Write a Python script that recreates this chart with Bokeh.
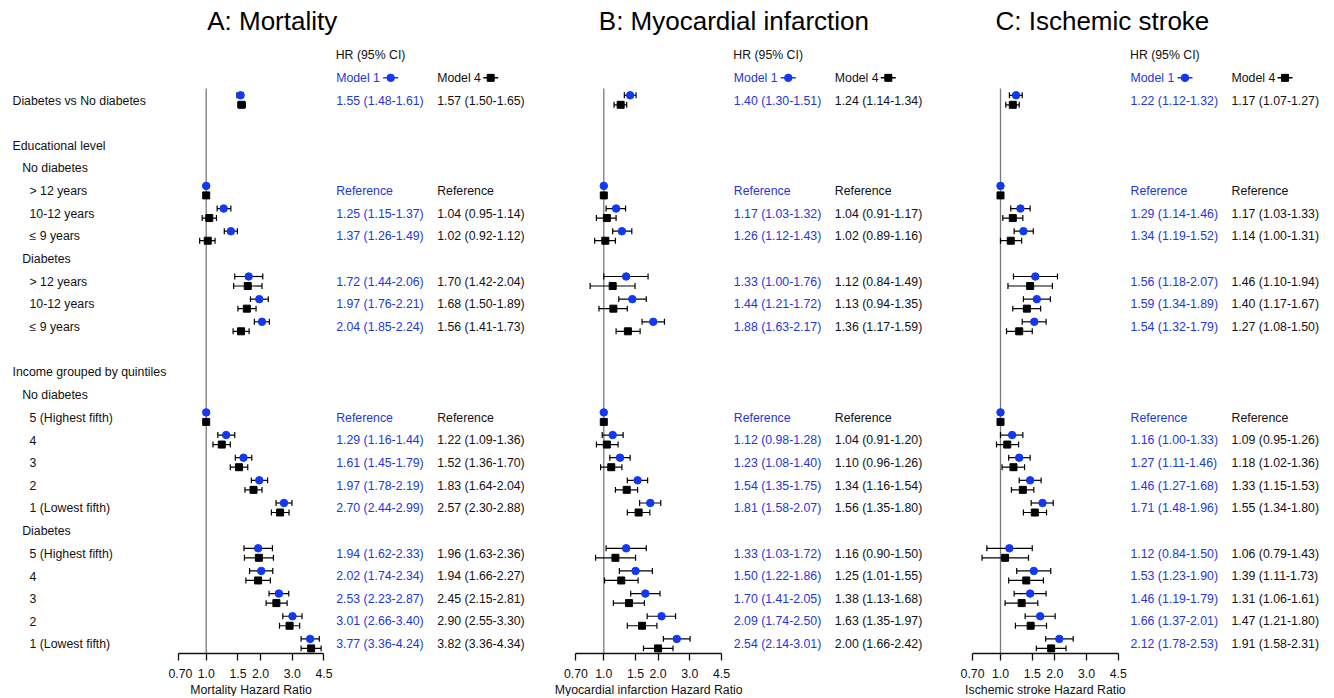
import math
from bokeh.plotting import figure
from bokeh.layouts import row
from bokeh.models import Range1d, FixedTicker, Title, LogScale, LogAxis
from bokeh.core.properties import value
from bokeh.embed import file_html
from bokeh.resources import INLINE

FONT = "Liberation Sans"
BLUE_TEXT = "#2337d9"
BLUE_MARK = "#1238f5"
INK = "#111111"

# ---------------- data ----------------
row_labels = ["Diabetes vs No diabetes", "", "Educational level", "No diabetes",
              "> 12 years", "10-12 years", "\u2264 9 years", "Diabetes",
              "> 12 years", "10-12 years", "\u2264 9 years", "",
              "Income grouped by quintiles", "No diabetes",
              "5 (Highest fifth)", "4", "3", "2", "1 (Lowest fifth)", "Diabetes",
              "5 (Highest fifth)", "4", "3", "2", "1 (Lowest fifth)"]
row_levels = [0, 0, 0, 1, 2, 2, 2, 1, 2, 2, 2, 0, 0, 1, 2, 2, 2, 2, 2, 1, 2, 2, 2, 2, 2]
data_rows = [0, 4, 5, 6, 8, 9, 10, 14, 15, 16, 17, 18, 20, 21, 22, 23, 24]
is_reference = [False, True, False, False, False, False, False, True, False,
                 False, False, False, False, False, False, False, False]

panel_titles = ["A: Mortality", "B: Myocardial infarction", "C: Ischemic stroke"]
axis_titles = ["Mortality Hazard Ratio", "Myocardial infarction Hazard Ratio",
               "Ischemic stroke Hazard Ratio"]
tick_values = [0.7, 1.0, 1.5, 2.0, 3.0, 4.5]
tick_labels = ["0.70", "1.0", "1.5", "2.0", "3.0", "4.5"]

# Mortality
mort_m1_hr = [1.55, 1.00, 1.25, 1.37, 1.72, 1.97, 2.04, 1.00, 1.29, 1.61, 1.97, 2.70, 1.94, 2.02, 2.53, 3.01, 3.77]
mort_m1_lo = [1.48, 1.00, 1.15, 1.26, 1.44, 1.76, 1.85, 1.00, 1.16, 1.45, 1.78, 2.44, 1.62, 1.74, 2.23, 2.66, 3.36]
mort_m1_hi = [1.61, 1.00, 1.37, 1.49, 2.06, 2.21, 2.24, 1.00, 1.44, 1.79, 2.19, 2.99, 2.33, 2.34, 2.87, 3.40, 4.24]
mort_m4_hr = [1.57, 1.00, 1.04, 1.02, 1.70, 1.68, 1.56, 1.00, 1.22, 1.52, 1.83, 2.57, 1.96, 1.94, 2.45, 2.90, 3.82]
mort_m4_lo = [1.50, 1.00, 0.95, 0.92, 1.42, 1.50, 1.41, 1.00, 1.09, 1.36, 1.64, 2.30, 1.63, 1.66, 2.15, 2.55, 3.36]
mort_m4_hi = [1.65, 1.00, 1.14, 1.12, 2.04, 1.89, 1.73, 1.00, 1.36, 1.70, 2.04, 2.88, 2.36, 2.27, 2.81, 3.30, 4.34]

# Myocardial infarction
mi_m1_hr = [1.40, 1.00, 1.17, 1.26, 1.33, 1.44, 1.88, 1.00, 1.12, 1.23, 1.54, 1.81, 1.33, 1.50, 1.70, 2.09, 2.54]
mi_m1_lo = [1.30, 1.00, 1.03, 1.12, 1.00, 1.21, 1.63, 1.00, 0.98, 1.08, 1.35, 1.58, 1.03, 1.22, 1.41, 1.74, 2.14]
mi_m1_hi = [1.51, 1.00, 1.32, 1.43, 1.76, 1.72, 2.17, 1.00, 1.28, 1.40, 1.75, 2.07, 1.72, 1.86, 2.05, 2.50, 3.01]
mi_m4_hr = [1.24, 1.00, 1.04, 1.02, 1.12, 1.13, 1.36, 1.00, 1.04, 1.10, 1.34, 1.56, 1.16, 1.25, 1.38, 1.63, 2.00]
mi_m4_lo = [1.14, 1.00, 0.91, 0.89, 0.84, 0.94, 1.17, 1.00, 0.91, 0.96, 1.16, 1.35, 0.90, 1.01, 1.13, 1.35, 1.66]
mi_m4_hi = [1.34, 1.00, 1.17, 1.16, 1.49, 1.35, 1.59, 1.00, 1.20, 1.26, 1.54, 1.80, 1.50, 1.55, 1.68, 1.97, 2.42]

# Ischemic stroke
is_m1_hr = [1.22, 1.00, 1.29, 1.34, 1.56, 1.59, 1.54, 1.00, 1.16, 1.27, 1.46, 1.71, 1.12, 1.53, 1.46, 1.66, 2.12]
is_m1_lo = [1.12, 1.00, 1.14, 1.19, 1.18, 1.34, 1.32, 1.00, 1.00, 1.11, 1.27, 1.48, 0.84, 1.23, 1.19, 1.37, 1.78]
is_m1_hi = [1.32, 1.00, 1.46, 1.52, 2.07, 1.89, 1.79, 1.00, 1.33, 1.46, 1.68, 1.96, 1.50, 1.90, 1.79, 2.01, 2.53]
is_m4_hr = [1.17, 1.00, 1.17, 1.14, 1.46, 1.40, 1.27, 1.00, 1.09, 1.18, 1.33, 1.55, 1.06, 1.39, 1.31, 1.47, 1.91]
is_m4_lo = [1.07, 1.00, 1.03, 1.00, 1.10, 1.17, 1.08, 1.00, 0.95, 1.02, 1.15, 1.34, 0.79, 1.11, 1.06, 1.21, 1.58]
is_m4_hi = [1.27, 1.00, 1.33, 1.31, 1.94, 1.67, 1.50, 1.00, 1.26, 1.36, 1.53, 1.80, 1.43, 1.73, 1.61, 1.80, 2.31]

panels = [
    (mort_m1_hr, mort_m1_lo, mort_m1_hi, mort_m4_hr, mort_m4_lo, mort_m4_hi),
    (mi_m1_hr, mi_m1_lo, mi_m1_hi, mi_m4_hr, mi_m4_lo, mi_m4_hi),
    (is_m1_hr, is_m1_lo, is_m1_hi, is_m4_hr, is_m4_lo, is_m4_hi),
]

# ---------------- layout constants ----------------
K = 78.3                 # pixels per ln-unit on the HR axis
FRAME_H = 653
ROW_PX = 22.65
ROW0_PX = 100            # pixel of row 0 inside the frame
Y_TOP = -ROW0_PX / ROW_PX
Y_BOTTOM = (FRAME_H - ROW0_PX) / ROW_PX
FS = "12.3px"

ARIAL = {" ": .278, "M": .833, "o": .556, "r": .333, "t": .278, "a": .556, "l": .222,
         "i": .222, "y": .5, "H": .722, "z": .5, "d": .556, "R": .722, "c": .5,
         "f": .278, "n": .556, "I": .278, "s": .5, "h": .556, "e": .556, "m": .833,
         "k": .5}


def text_w(s, size=12.3):
    return sum(ARIAL.get(ch, .556) for ch in s) * size


def base_fig(w):
    p = figure(frame_width=w, frame_height=FRAME_H, toolbar_location=None,
               output_backend="svg", y_range=Range1d(Y_BOTTOM, Y_TOP),
               min_border_left=0, min_border_right=0, min_border_top=0,
               min_border_bottom=0, y_axis_location=None)
    p.outline_line_color = None
    p.grid.visible = False
    p.background_fill_color = "white"
    p.border_fill_color = "white"
    return p


# ---------------- row labels ----------------
LAB_W = 168
pl = base_fig(LAB_W)
pl.x_range = Range1d(0, LAB_W)
pl.xaxis.visible = False
indent = [12, 21.7, 29]
lab_rows = [i for i, s in enumerate(row_labels) if s]
pl.text(x=[indent[row_levels[i]] for i in lab_rows], y=lab_rows,
        text=[row_labels[i] for i in lab_rows], text_font=value(FONT),
        text_font_size=value(FS), text_baseline="middle", text_align="left",
        text_color=INK)


def fmt(h, l, u, ref):
    return "Reference" if ref else f"{h:.2f} ({l:.2f}-{u:.2f})"


def make_panel(idx, w, o1, title_dx):
    m1h, m1l, m1u, m4h, m4l, m4u = panels[idx]
    p = base_fig(w)
    p.x_range = Range1d(math.exp(-o1 / K), math.exp((w - o1) / K))
    p.x_scale = LogScale()
    p.xaxis.visible = False
    ax = LogAxis(ticker=FixedTicker(ticks=tick_values))
    ax.major_label_overrides = {v: t for v, t in zip(tick_values, tick_labels)}
    ax.bounds = (tick_values[0], tick_values[-1])
    ax.minor_tick_line_color = None
    ax.major_tick_in = 0
    ax.major_tick_out = 7
    ax.axis_line_width = 1.3
    ax.major_tick_line_width = 1.3
    ax.axis_line_color = INK
    ax.major_tick_line_color = INK
    ax.major_label_text_font = FONT
    ax.major_label_text_font_size = FS
    ax.major_label_text_color = INK
    ax.major_label_standoff = 8
    p.add_layout(ax, "below")
    xc = o1 + K * (math.log(tick_values[0]) + math.log(tick_values[-1])) / 2
    p.add_layout(Title(text=axis_titles[idx], align="left",
                       offset=xc - text_w(axis_titles[idx]) / 2,
                       text_font=FONT, text_font_size=FS, text_font_style="normal",
                       text_color=INK, standoff=0), "below")

    # reference line at HR = 1
    p.segment(x0=[1.0], y0=[-0.53], x1=[1.0], y1=[Y_BOTTOM], line_color="#7a7a7a",
              line_width=1.3)

    # panel title
    p.text(x=[1.0], y=[-3.5], text=[panel_titles[idx]], x_offset=title_dx,
           text_font=value(FONT), text_font_size=value("26px"),
           text_baseline="middle", text_align="left", text_color="black")

    # header
    p.text(x=[1.0], y=[-2], text=["HR (95% CI)"], x_offset=129.5,
           text_font=value(FONT), text_font_size=value(FS), text_baseline="middle",
           text_color=INK)
    p.text(x=[1.0], y=[-1], text=["Model 1"], x_offset=130, text_font=value(FONT),
           text_font_size=value(FS), text_baseline="middle", text_color=BLUE_TEXT)
    p.text(x=[1.0], y=[-1], text=["Model 4"], x_offset=231, text_font=value(FONT),
           text_font_size=value(FS), text_baseline="middle", text_color=INK)
    px = lambda d: math.exp(d / K)
    p.segment(x0=[px(177)], y0=[-1], x1=[px(192)], y1=[-1], line_color=BLUE_MARK,
              line_width=1.5)
    p.scatter(x=[px(184.5)], y=[-1], marker="circle", size=7.5, color=BLUE_MARK)
    p.segment(x0=[px(277)], y0=[-1], x1=[px(292)], y1=[-1], line_color="black",
              line_width=1.5)
    p.scatter(x=[px(284.5)], y=[-1], marker="square", size=7, color="black")

    y1 = [r - 0.23 for r in data_rows]
    y4 = [r + 0.19 for r in data_rows]
    cap = 0.13
    for hv, lv, uv, ys in ((m1h, m1l, m1u, y1), (m4h, m4l, m4u, y4)):
        sel = [i for i in range(len(hv)) if not is_reference[i]]
        L = [lv[i] for i in sel]
        U = [uv[i] for i in sel]
        Y = [ys[i] for i in sel]
        p.segment(x0=L, y0=Y, x1=U, y1=Y, line_color="black", line_width=1.2)
        p.segment(x0=L, y0=[y - cap for y in Y], x1=L, y1=[y + cap for y in Y],
                  line_color="black", line_width=1.2)
        p.segment(x0=U, y0=[y - cap for y in Y], x1=U, y1=[y + cap for y in Y],
                  line_color="black", line_width=1.2)
    p.scatter(x=m1h, y=y1, marker="circle", size=7.5, color=BLUE_MARK)
    p.scatter(x=m4h, y=y4, marker="square", size=7, color="black")

    # HR text columns
    ones = [1.0] * len(data_rows)
    p.text(x=ones, y=data_rows,
           text=[fmt(m1h[i], m1l[i], m1u[i], is_reference[i]) for i in range(len(m1h))],
           x_offset=130, text_font=value(FONT), text_font_size=value(FS),
           text_baseline="middle", text_color=BLUE_TEXT)
    p.text(x=ones, y=data_rows,
           text=[fmt(m4h[i], m4l[i], m4u[i], is_reference[i]) for i in range(len(m4h))],
           x_offset=231, text_font=value(FONT), text_font_size=value(FS),
           text_baseline="middle", text_color=INK)
    return p


pA = make_panel(0, 380, 205.7 - 168, 1)
pB = make_panel(1, 398, 603.3 - 548, -5)
pC = make_panel(2, 386, 1000 - 946, -5)

layout = row(pl, pA, pB, pC, spacing=0)
open("out.html", "w").write(file_html(layout, INLINE))
